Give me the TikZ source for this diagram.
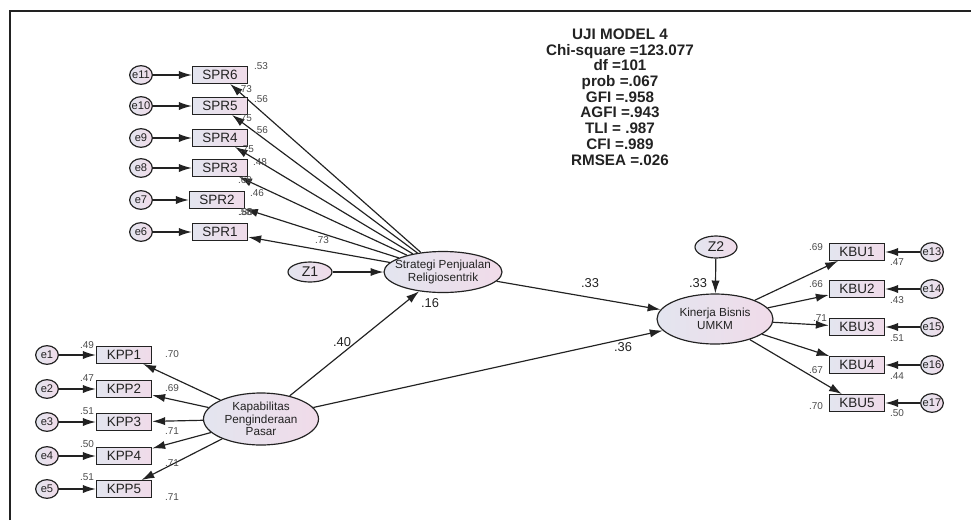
\documentclass[tikz,border=0pt]{standalone}
\usepackage{fontspec}
\setmainfont{Liberation Sans}
\usetikzlibrary{shapes.geometric,arrows.meta}
\definecolor{ink}{HTML}{222222}
\definecolor{numcol}{HTML}{4A4A4A}
\definecolor{fillL}{HTML}{E3E5EF}
\definecolor{fillR}{HTML}{F0DBE9}
\tikzset{
  lat/.style={ellipse, draw=ink, line width=1pt, left color=fillL, right color=fillR, inner sep=0pt},
  lattext/.style={font=\fontsize{10}{10.8}\selectfont, text=ink, align=center},
  obs/.style={rectangle, draw=ink, line width=1pt, left color=fillL, right color=fillR,
    minimum width=1.66cm, minimum height=0.5cm, inner sep=0pt, font=\fontsize{11.5}{12}\selectfont, text=ink},
  err/.style={lat, minimum width=0.68cm, minimum height=0.56cm},
  errtxt/.style={font=\fontsize{9.5}{10}\selectfont, text=ink, inner sep=0pt},
  num/.style={font=\fontsize{8.5}{9}\selectfont, text=numcol, inner sep=0pt},
  coef/.style={font=\fontsize{11}{12}\selectfont, text=ink, inner sep=0pt},
  arr/.style={draw=ink, line width=1pt, -{Latex[length=11pt,width=7pt]}},
}
\begin{document}
\begin{tikzpicture}[x=0.03cm,y=-0.03cm]
\useasboundingbox (0,0) rectangle (971,520);
\draw[ink, line width=1.6pt] (10,520) -- (10,11) -- (971,11);

% fit indices
\node[font=\bfseries\fontsize{13}{13.4}\selectfont, text=ink, align=center] (fit) at (620,97)
  {UJI MODEL 4\\Chi-square =123.077\\df =101\\prob =.067\\GFI =.958\\AGFI =.943\\TLI = .987\\CFI =.989\\RMSEA =.026};

% latent variables
\node[lat, minimum width=3.54cm, minimum height=1.23cm,
  label={[lattext]center:Strategi Penjualan\\Religiosentrik}] (strat) at (443,272) {};
\node[lat, minimum width=3.48cm, minimum height=1.5cm,
  label={[lattext]center:Kinerja Bisnis\\UMKM}] (kin) at (715,319) {};
\node[lat, minimum width=3.45cm, minimum height=1.56cm,
  label={[lattext]center:Kapabilitas\\Penginderaan\\Pasar}] (kap) at (261,419) {};
\node[lat, minimum width=1.32cm, minimum height=0.6cm,
  label={[coef, font=\fontsize{12}{12}\selectfont]center:Z1}] (z1) at (310,272) {};
\node[lat, minimum width=1.26cm, minimum height=0.66cm,
  label={[coef, font=\fontsize{12}{12}\selectfont]center:Z2}] (z2) at (716,247) {};

% SPR indicators
\foreach \k/\y/\x in {6/75/220,5/106/220,4/138/220,3/168/220,2/200/217,1/232/220}{
  \pgfmathtruncatemacro\e{\k+5}
  \node[err, label={[errtxt]center:e\e}] (e\e) at (141,\y) {};
  \node[obs] (spr\k) at (\x,\y) {SPR\k};
  \draw[arr] (e\e) -- (spr\k);
  \draw[arr] (strat) -- (spr\k);
}

% KPP indicators
\foreach \k/\y in {1/355,2/389,3/422,4/456,5/489}{
  \node[err, label={[errtxt]center:e\k}] (e\k) at (47,\y) {};
  \node[obs] (kpp\k) at (124,\y) {KPP\k};
  \draw[arr] (e\k) -- (kpp\k);
  \draw[arr] (kap) -- (kpp\k);
}

% KBU indicators
\foreach \k/\y in {1/252,2/289,3/327,4/365,5/403}{
  \pgfmathtruncatemacro\e{\k+12}
  \node[obs] (kbu\k) at (857,\y) {KBU\k};
  \node[err, label={[errtxt]center:e\e}] (e\e) at (932,\y) {};
  \draw[arr] (e\e) -- (kbu\k);
  \draw[arr] (kin) -- (kbu\k);
}

% structural paths
\draw[arr] (z1) -- (strat);
\draw[arr] (z2) -- (kin);
\draw[arr] (kap) -- (strat);
\draw[arr] (strat) -- (kin);
\draw[arr] (kap) -- (kin);

% estimates
\foreach \t/\x/\y [count=\i] in {.53/261/66,.73/245/89,.56/261/99,.75/245/118,.56/261/130,.75/247/149,
  .48/260/162,.69/245/180,.46/257/193,.58/245/212,.88/246/212,.73/322/240,
  .49/87/345,.70/172/354,.47/87/378,.69/172/388,.51/87/411,.71/172/431,.50/87/444,.71/172/463,.51/87/477,.71/172/497,
  .69/816/247,.47/897/262,.66/816/284,.43/897/300,.71/820/318,.51/897/338,.67/816/370,.44/897/376,.70/816/406,.50/897/413}
  \node[num] (n\i) at (\x,\y) {\t};
\node[coef] (r1) at (430,303) {.16};
\node[coef] (r2) at (698,283) {.33};
\node[coef] (b1) at (590,283) {.33};
\node[coef] (b2) at (342,342) {.40};
\node[coef] (b3) at (623,347) {.36};
\end{tikzpicture}
\end{document}
